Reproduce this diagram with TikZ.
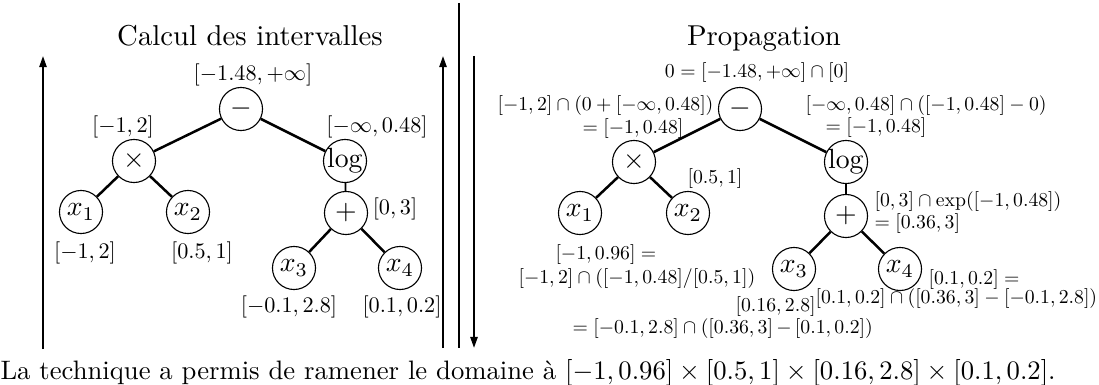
\documentclass[tikz,border=0pt]{standalone}
\usetikzlibrary{arrows.meta}
\newcommand\smtxt[1]{\scalebox{0.71}{\normalsize #1}}
\newcommand\mdtxt[1]{\scalebox{0.8}{\normalsize #1}}
\begin{document}
\begin{tikzpicture}[x=0.36pt,y=-0.36pt,
  op/.style={circle, draw, line width=0.4pt, minimum size=15.5pt, inner sep=0pt, font=\normalsize},
  treeedge/.style={line width=0.9pt},
  thinedge/.style={line width=0.6pt},
  lab/.style={font=\normalsize, inner sep=0pt},
  rlab/.style={font=\fontsize{7.1}{7.5}\selectfont, inner sep=0pt, align=left, anchor=west},
  axisline/.style={line width=0.7pt},
  arr/.style={axisline, -{Triangle[length=4pt,width=2.6pt]}},
  title/.style={font=\fontsize{10.35}{12}\selectfont, inner sep=0pt, anchor=base}]
\useasboundingbox (0,0) rectangle (1099,385);

% titles
\node[title] (t1) at (250,46) {Calcul des intervalles};
\node[title] (t2) at (764,46) {Propagation};

% vertical lines
\coordinate (a1s) at (43,349);  \coordinate (a1e) at (43,56);
\coordinate (a2s) at (443,348); \coordinate (a2e) at (443,56);
\coordinate (msep1) at (459,3); \coordinate (msep2) at (459,348);
\coordinate (a3s) at (474,56);  \coordinate (a3e) at (474,348);
\draw[arr] (a1s) -- (a1e);
\draw[arr] (a2s) -- (a2e);
\draw[axisline] (msep1) -- (msep2);
\draw[arr] (a3s) -- (a3e);

% left tree
\node[op] (Lm) at (241,109) {$-$};
\node[op] (Lt) at (134,161) {$\times$};
\node[op] (Ll) at (345,161) {\makebox[9pt]{$\log$}};
\node[op] (L1) at (81,212) {$x_1$};
\node[op] (L2) at (188,212) {$x_2$};
\node[op] (Lp) at (346,213) {$+$};
\node[op] (L3) at (294,268) {$x_3$};
\node[op] (L4) at (400,268) {$x_4$};
\draw[treeedge] (Lm) -- (Lt);
\draw[treeedge] (Lm) -- (Ll);
\draw[treeedge] (Lt) -- (L1);
\draw[treeedge] (Lt) -- (L2);
\draw[thinedge] (Ll) -- (Lp);
\draw[treeedge] (Lp) -- (L3);
\draw[treeedge] (Lp) -- (L4);

\node[lab] (lm) at (253,75) {\mdtxt{$[-1.48,+\infty]$}};
\node[lab] (lt) at (123,127) {\mdtxt{$[-1,2]$}};
\node[lab] (ll) at (377,127) {\mdtxt{$[-\infty,0.48]$}};
\node[lab] (lp) at (395,209) {\mdtxt{$[0,3]$}};
\node[lab] (l1) at (85,253) {\mdtxt{$[-1,2]$}};
\node[lab] (l2) at (202,253) {\mdtxt{$[0.5,1]$}};
\node[lab] (l3) at (289,307) {\mdtxt{$[-0.1,2.8]$}};
\node[lab] (l4) at (402,307) {\mdtxt{$[0.1,0.2]$}};

% right tree
\node[op] (Rm) at (740,109) {$-$};
\node[op] (Rt) at (634,162) {$\times$};
\node[op] (Rl) at (846,162) {\makebox[9pt]{$\log$}};
\node[op] (R1) at (580,213) {$x_1$};
\node[op] (R2) at (688,213) {$x_2$};
\node[op] (Rp) at (846,216) {$+$};
\node[op] (R3) at (794,269) {$x_3$};
\node[op] (R4) at (900,269) {$x_4$};
\draw[treeedge] (Rm) -- (Rt);
\draw[treeedge] (Rm) -- (Rl);
\draw[treeedge] (Rt) -- (R1);
\draw[treeedge] (Rt) -- (R2);
\draw[thinedge] (Rl) -- (Rp);
\draw[treeedge] (Rp) -- (R3);
\draw[treeedge] (Rp) -- (R4);

\node[rlab, anchor=center] (rm) at (757,73) {\smtxt{$0=[-1.48,+\infty]\cap[0]$}};
\node[rlab] (rt) at (497,117) {\smtxt{$[-1,2]\cap(0+[-\infty,0.48])$}\\[0.5pt]\hspace*{30.6pt}\smtxt{$=[-1,0.48]$}};
\node[rlab] (rl) at (805,116.5) {\smtxt{$[-\infty,0.48]\cap([-1,0.48]-0)$}\\[0.5pt]\hspace*{7.2pt}\smtxt{$=[-1,0.48]$}};
\node[rlab, anchor=center] (r2) at (715,179) {\smtxt{$[0.5,1]$}};
\node[rlab] (rp) at (874,212.5) {\smtxt{$[0,3]\cap\exp([-1,0.48])$}\\[0.7pt]\smtxt{$=[0.36,3]$}};
\node[rlab] (r1) at (518,266.5) {\hspace*{13.3pt}\smtxt{$[-1,0.96]=$}\\[1.4pt]\smtxt{$[-1,2]\cap([-1,0.48]/[0.5,1])$}};
\node[rlab] (r3) at (572,317.5) {\hspace*{58.7pt}\smtxt{$[0.16,2.8]$}\\[0.7pt]\smtxt{$=[-0.1,2.8]\cap([0.36,3]\,{-}\,[0.1,0.2])$}};
\node[rlab] (r4) at (815,289) {\hspace*{40.7pt}\smtxt{$[0.1,0.2]=$}\\[-0.5pt]\smtxt{$[0.1,0.2]\cap([0.36,3]-[-0.1,2.8])$}};

% bottom sentence
\node[inner sep=0pt, anchor=base west, font=\normalsize] (bt) at (0,379)
  {\resizebox{379.8pt}{!}{La technique a permis de ramener le domaine à $[-1,0.96]\times[0.5,1]\times[0.16,2.8]\times[0.1,0.2]$.}};
\end{tikzpicture}
\end{document}
